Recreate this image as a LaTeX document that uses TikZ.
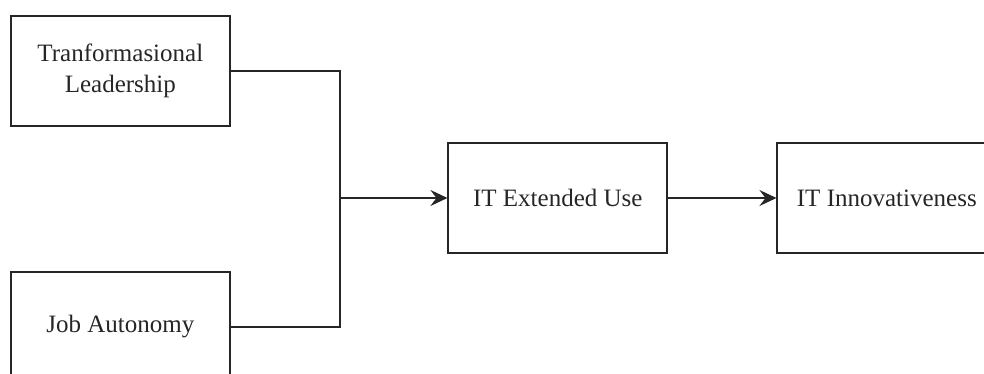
\documentclass[tikz,border=0pt]{standalone}
\usepackage{fontspec}
\setmainfont{Liberation Serif}
\usetikzlibrary{arrows.meta}
\begin{document}
\begin{tikzpicture}[x=1pt,y=-1pt,
 box/.style={draw=black!85, line width=1.7pt, minimum width=219pt, minimum height=110pt, inner sep=0pt, align=center, font=\fontsize{25}{31}\selectfont, text=black!85},
 conn/.style={line width=1.7pt, draw=black!85},
 arr/.style={conn, -{Stealth[length=17pt,width=16pt,inset=6pt]}}]
\useasboundingbox (0,0) rectangle (984,374);
\clip (0,0) rectangle (984,374);
\node[box] (tl) at (120.35,70.7) {Tranformasional\\Leadership};
\node[box] (ja) at (120.35,326.7) {Job Autonomy};
\node[box] (ite) at (557.8,198) {IT Extended Use};
\node[box] (iti) at (886.8,198) {IT Innovativeness};
\coordinate (j) at (340,198);
\draw[conn] (tl.east) -| (j) |- (ja.east);
\draw[arr] (j) -- (ite.west);
\draw[arr] (ite) -- (iti);
\end{tikzpicture}
\end{document}
